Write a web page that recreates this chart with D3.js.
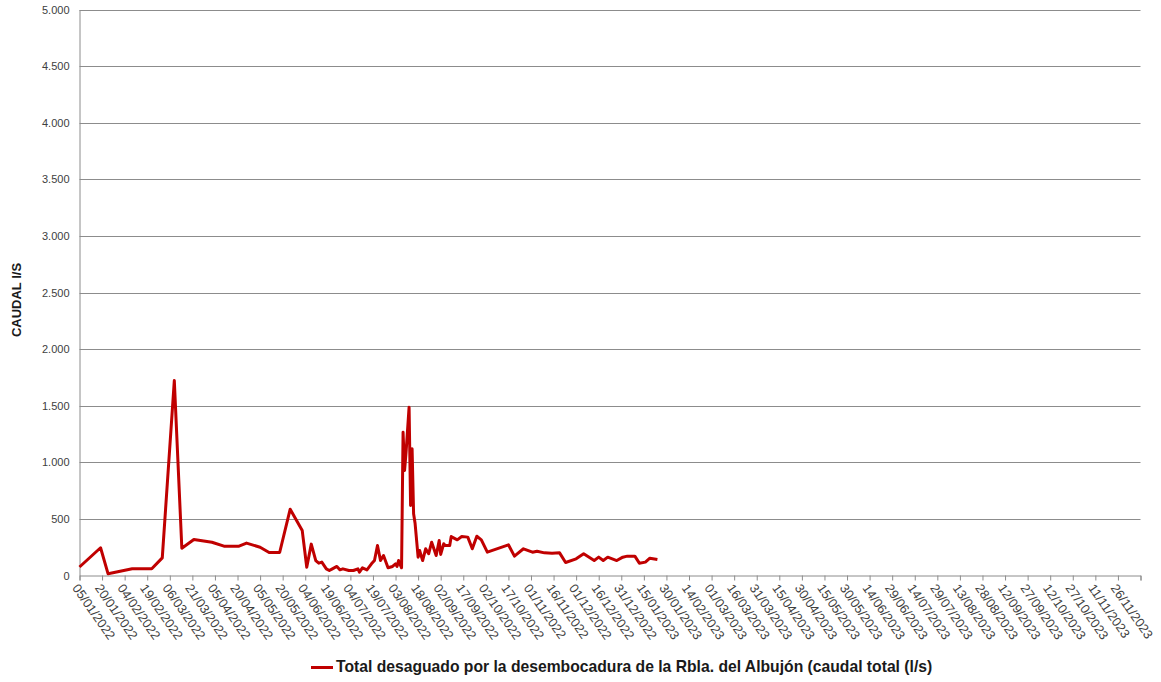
<!DOCTYPE html>
<html>
<head>
<meta charset="utf-8">
<script src="https://cdn.jsdelivr.net/npm/d3@7"></script>
<style>
  html, body { margin: 0; padding: 0; background: #fff; }
  svg { display: block; }
  text { font-family: "Liberation Sans", Arial, sans-serif; }
</style>
</head>
<body>
<svg id="chart" width="1161" height="682"></svg>
<script>
// ---- Data ----
const dates = [
  "05/01/2022","19/01/2022","24/01/2022","09/02/2022","22/02/2022","01/03/2022","09/03/2022","14/03/2022",
  "22/03/2022","03/04/2022","11/04/2022","21/04/2022","26/04/2022","05/05/2022","11/05/2022","18/05/2022",
  "25/05/2022","02/06/2022","05/06/2022","08/06/2022","11/06/2022","13/06/2022","15/06/2022","18/06/2022",
  "20/06/2022","22/06/2022","25/06/2022","27/06/2022","29/06/2022","03/07/2022","06/07/2022","09/07/2022",
  "10/07/2022","12/07/2022","15/07/2022","18/07/2022","20/07/2022","22/07/2022","24/07/2022","26/07/2022",
  "29/07/2022","01/08/2022","03/08/2022","04/08/2022","05/08/2022","07/08/2022","08/08/2022","09/08/2022",
  "10/08/2022","12/08/2022","13/08/2022","14/08/2022","15/08/2022","16/08/2022","18/08/2022","19/08/2022",
  "21/08/2022","23/08/2022","25/08/2022","27/08/2022","30/08/2022","01/09/2022","02/09/2022","04/09/2022",
  "05/09/2022","08/09/2022","09/09/2022","13/09/2022","16/09/2022","20/09/2022","23/09/2022","26/09/2022",
  "29/09/2022","03/10/2022","17/10/2022","21/10/2022","27/10/2022","02/11/2022","05/11/2022","10/11/2022",
  "15/11/2022","20/11/2022","24/11/2022","01/12/2022","06/12/2022","13/12/2022","16/12/2022","19/12/2022",
  "22/12/2022","28/12/2022","01/01/2023","04/01/2023","09/01/2023","12/01/2023","16/01/2023","19/01/2023",
  "24/01/2023"
];
const caudal = [
  75, 245, 15, 59, 59, 156, 1722, 241,
  318, 294, 259, 259, 286, 250, 203, 203,
  586, 397, 73, 277, 132, 109, 118, 59,
  44, 59, 80, 50, 59, 44, 44, 59,
  29, 68, 50, 103, 132, 265, 132, 177,
  68, 80, 103, 80, 132, 68, 1266, 928,
  1089, 1487, 618, 1119, 545, 459, 162, 221,
  132, 236, 192, 294, 177, 309, 186, 280,
  265, 265, 344, 315, 344, 339, 236, 347,
  315, 206, 271, 171, 236, 206, 215, 200,
  197, 200, 115, 147, 192, 132, 162, 132,
  162, 132, 162, 171, 171, 109, 118, 153,
  141
];
const xStart = "05/01/2022";
const xEnd = "11/12/2023";
const tickStepDays = 15;
const yTicks = [0, 500, 1000, 1500, 2000, 2500, 3000, 3500, 4000, 4500, 5000];
const yTitle = "CAUDAL l/S";
const seriesName = "Total desaguado por la desembocadura de la Rbla. del Albujón (caudal total (l/s)";

// ---- Chart ----
(function () {
const parse = d3.utcParse("%d/%m/%Y");
const fmtDate = d3.utcFormat("%d/%m/%Y");
const esLocale = d3.formatLocale({decimal: ",", thousands: ".", grouping: [3], currency: ["", " €"]});
const fmtNum = esLocale.format(",.0f");

const data = dates.map((d, i) => ({date: parse(d), value: caudal[i]}));

const svg = d3.select("#chart");
const mLeft = 79.5, mRight = 1140.5, mTop = 9.5, mBottom = 575.5;

const x = d3.scaleUtc().domain([parse(xStart), parse(xEnd)]).range([mLeft, mRight]);
const y = d3.scaleLinear().domain([0, 5000]).range([mBottom, mTop]);

const xTickDates = d3.utcDay.range(parse(xStart), d3.utcDay.offset(parse(xEnd), 1))
  .filter((d, i) => i % tickStepDays === 0);

const gridColor = "#8c8c8c";
const textColor = "#404040";

// horizontal gridlines
svg.append("g")
  .selectAll("line")
  .data(yTicks.filter(v => v > 0))
  .join("line")
  .attr("x1", mLeft).attr("x2", mRight)
  .attr("y1", d => Math.round(y(d)) + 0.5).attr("y2", d => Math.round(y(d)) + 0.5)
  .attr("stroke", gridColor).attr("stroke-width", 1);

// y axis
const yAxis = d3.axisLeft(y).tickValues(yTicks).tickFormat(fmtNum).tickSize(0).tickPadding(10);
const gy = svg.append("g").attr("transform", `translate(${mLeft},0)`).call(yAxis);
gy.select(".domain").attr("stroke", gridColor);
gy.selectAll("text").attr("font-size", 11).attr("fill", textColor);

// x axis
const xAxis = d3.axisBottom(x).tickValues(xTickDates).tickSize(5).tickFormat("");
const gx = svg.append("g").attr("transform", `translate(0,${mBottom})`).call(xAxis);
gx.select(".domain").attr("stroke", gridColor);
gx.selectAll(".tick line").attr("stroke", gridColor);

// rotated x labels (all but the last tick)
svg.append("g")
  .selectAll("text")
  .data(xTickDates.slice(0, -1))
  .join("text")
  .attr("transform", d => `translate(${x(d) - 4},${mBottom + 10}) rotate(55)`)
  .attr("dy", "0.35em")
  .attr("text-anchor", "start")
  .attr("font-size", 12.8)
  .attr("fill", textColor)
  .text(d => fmtDate(d));

// y title
svg.append("text")
  .attr("transform", `translate(21,300) rotate(-90)`)
  .attr("text-anchor", "middle")
  .attr("font-size", 13)
  .attr("font-weight", "bold")
  .attr("fill", "#1a1a1a")
  .text(yTitle);

// series line
const line = d3.line().x(d => x(d.date)).y(d => y(d.value));
svg.append("path")
  .datum(data)
  .attr("fill", "none")
  .attr("stroke", "#c00000")
  .attr("stroke-width", 3)
  .attr("stroke-linejoin", "round")
  .attr("d", line);

// legend
const lg = svg.append("g");
lg.append("line")
  .attr("x1", 311).attr("x2", 333).attr("y1", 667.5).attr("y2", 667.5)
  .attr("stroke", "#c00000").attr("stroke-width", 3);
lg.append("text")
  .attr("x", 336).attr("y", 667).attr("dy", "0.35em")
  .attr("font-size", 15.7).attr("font-weight", "bold")
  .attr("fill", "#1a1a1a")
  .text(seriesName);
})();
</script>
</body>
</html>
